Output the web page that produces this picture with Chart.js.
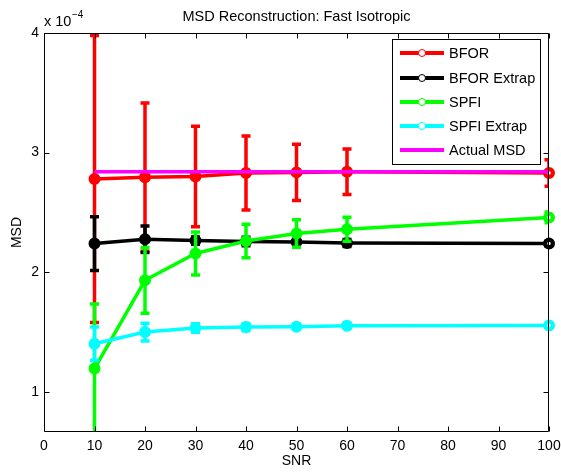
<!DOCTYPE html>
<html>
<head>
<meta charset="utf-8">
<script src="https://cdn.jsdelivr.net/npm/chart.js@4/dist/chart.umd.min.js"></script>
<style>
html,body{margin:0;padding:0;background:#fff;}
canvas{display:block;}
</style>
</head>
<body>
<canvas id="c" width="561" height="472"></canvas>
<script>
// Values in units of 1e-4
const snr = [10, 20, 30, 40, 50, 60, 100];
const bfor = [2.78, 2.795, 2.80, 2.83, 2.835, 2.84, 2.83];
const bforErr = [1.20, 0.62, 0.42, 0.31, 0.235, 0.19, 0.11];
const bforExtrap = [2.24, 2.276, 2.265, 2.257, 2.254, 2.245, 2.24];
const bforExtrapErr = [0.225, 0.11, 0.03, 0.035, 0.03, 0.03, 0.02];
const spfi = [1.195, 1.933, 2.157, 2.262, 2.324, 2.36, 2.458];
const spfiErr = [0.54, 0.275, 0.18, 0.14, 0.115, 0.10, 0.045];
const spfiExtrap = [1.403, 1.50, 1.534, 1.542, 1.545, 1.554, 1.555];
const spfiExtrapErr = [0.14, 0.075, 0.035, 0.03, 0.02, 0.02, 0.015];
const actualMSD = [2.84, 2.84, 2.84, 2.84, 2.84, 2.84, 2.84];
const xTicks = [0, 10, 20, 30, 40, 50, 60, 70, 80, 90, 100];
const yTicks = [1, 2, 3, 4];
const seriesNames = ['BFOR', 'BFOR Extrap', 'SPFI', 'SPFI Extrap', 'Actual MSD'];
const seriesColors = ['#ff0000', '#000000', '#00ff00', '#00ffff', '#ff00ff'];

const FONT = '"Liberation Sans", Arial, Helvetica, sans-serif';

function pts(vals) { return snr.map((x, i) => ({x: x, y: vals[i]})); }
function isLast(i) { return i === snr.length - 1; }

function mk(i, vals, errs, markers, ord) {
  const col = seriesColors[i];
  return {
    label: seriesNames[i],
    data: pts(vals),
    errors: errs,
    borderColor: col,
    backgroundColor: col,
    borderWidth: 3.5,
    pointRadius: markers ? snr.map((x, k) => isLast(k) ? 3.9 : 4.8) : 0,
    pointBorderWidth: snr.map((x, k) => isLast(k) ? 4.2 : 2.4),
    pointBackgroundColor: snr.map((x, k) => isLast(k) ? '#ffffff' : col),
    pointBorderColor: col,
    tension: 0,
    clip: false,
    order: ord
  };
}

const errPlugin = {
  id: 'errbars',
  beforeDatasetDraw(chart, args) {
    const ds = chart.data.datasets[args.index];
    if (!ds.errors) return;
    const ctx = chart.ctx, xs = chart.scales.x, ys = chart.scales.y, a = chart.chartArea;
    ctx.save();
    ctx.beginPath();
    ctx.rect(a.left, a.top, a.right - a.left, a.bottom - a.top);
    ctx.clip();
    ctx.strokeStyle = ds.borderColor;
    ctx.lineWidth = 3.5;
    ctx.lineCap = 'butt';
    ds.data.forEach((p, i) => {
      const e = ds.errors[i];
      const x = xs.getPixelForValue(p.x);
      const yt = ys.getPixelForValue(p.y + e);
      const yb = ys.getPixelForValue(p.y - e);
      ctx.beginPath();
      ctx.moveTo(x, yt); ctx.lineTo(x, yb);
      ctx.moveTo(x - 4.5, yt); ctx.lineTo(x + 4.5, yt);
      ctx.moveTo(x - 4.5, yb); ctx.lineTo(x + 4.5, yb);
      ctx.stroke();
    });
    ctx.restore();
  }
};

const framePlugin = {
  id: 'frame',
  afterDraw(chart) {
    const ctx = chart.ctx, a = chart.chartArea, xs = chart.scales.x, ys = chart.scales.y;
    ctx.save();
    ctx.strokeStyle = '#000';
    ctx.lineWidth = 1;
    const L = Math.round(a.left) + 0.5, R = Math.round(a.right) - 0.5;
    const T = Math.round(a.top) + 0.5, B = Math.round(a.bottom) - 0.5;
    ctx.beginPath();
    ctx.rect(L, T, R - L, B - T);
    ctx.stroke();
    ctx.beginPath();
    xTicks.forEach(v => {
      const x = Math.round(xs.getPixelForValue(v)) + 0.5;
      ctx.moveTo(x, B); ctx.lineTo(x, B - 5);
      ctx.moveTo(x, T); ctx.lineTo(x, T + 5);
    });
    yTicks.forEach(v => {
      const y = Math.round(ys.getPixelForValue(v)) + 0.5;
      ctx.moveTo(L, y); ctx.lineTo(L + 5, y);
      ctx.moveTo(R, y); ctx.lineTo(R - 5, y);
    });
    ctx.stroke();

    // title
    ctx.fillStyle = '#000';
    ctx.font = '14.5px ' + FONT;
    ctx.textAlign = 'center';
    ctx.textBaseline = 'middle';
    ctx.fillText('MSD Reconstruction: Fast Isotropic', (a.left + a.right) / 2, 17);

    // exponent label
    ctx.textAlign = 'left';
    ctx.textBaseline = 'alphabetic';
    ctx.font = '14.5px ' + FONT;
    ctx.fillText('x 10', 44, 26);
    const w = ctx.measureText('x 10').width;
    ctx.font = '10px ' + FONT;
    ctx.fillText('\u22124', 44 + w + 0.5, 18);

    // legend
    const lx = 392.5, ly = 39.5, lw = 148, lh = 125;
    ctx.fillStyle = '#fff';
    ctx.fillRect(lx, ly, lw, lh);
    ctx.strokeStyle = '#000';
    ctx.lineWidth = 1;
    ctx.strokeRect(lx, ly, lw, lh);
    const rows = [53, 78, 102, 126, 150];
    ctx.font = '14.5px ' + FONT;
    ctx.textBaseline = 'middle';
    seriesNames.forEach((n, i) => {
      const y = rows[i];
      ctx.strokeStyle = seriesColors[i];
      ctx.lineWidth = 4;
      ctx.beginPath();
      ctx.moveTo(400, y); ctx.lineTo(444, y);
      ctx.stroke();
      if (i < 4) {
        ctx.lineWidth = 1;
        ctx.fillStyle = '#fff';
        ctx.beginPath();
        ctx.arc(422, y, 3.5, 0, Math.PI * 2);
        ctx.fill();
        ctx.stroke();
      }
      ctx.fillStyle = '#000';
      ctx.fillText(n, 449, y + 1);
    });
    ctx.restore();
  }
};

new Chart(document.getElementById('c'), {
  type: 'line',
  data: {
    datasets: [
      mk(0, bfor, bforErr, true, 5),
      mk(1, bforExtrap, bforExtrapErr, true, 4),
      mk(2, spfi, spfiErr, true, 3),
      mk(3, spfiExtrap, spfiExtrapErr, true, 2),
      mk(4, actualMSD, null, false, 1)
    ]
  },
  options: {
    responsive: false,
    animation: false,
    devicePixelRatio: 1,
    layout: {padding: {left: 0, top: 33, right: 12, bottom: 0}},
    plugins: {legend: {display: false}, tooltip: {enabled: false}, title: {display: false}},
    scales: {
      x: {
        type: 'linear',
        min: 0, max: 100,
        afterBuildTicks: s => { s.ticks = xTicks.map(v => ({value: v})); },
        afterFit: s => { s.height = 40; s.paddingLeft = 0; s.paddingRight = 0; },
        grid: {display: false, drawTicks: false},
        border: {display: false},
        ticks: {color: '#000', padding: 6, font: {family: FONT, size: 14}, maxRotation: 0, autoSkip: false},
        title: {display: true, text: 'SNR', color: '#000', font: {family: FONT, size: 14}, padding: {top: 0, bottom: 2}}
      },
      y: {
        type: 'linear',
        min: 0.665, max: 4,
        afterBuildTicks: s => { s.ticks = yTicks.map(v => ({value: v})); },
        afterFit: s => { s.width = 44; s.paddingTop = 0; s.paddingBottom = 0; },
        grid: {display: false, drawTicks: false},
        border: {display: false},
        ticks: {color: '#000', padding: 5, font: {family: FONT, size: 14}},
        title: {display: true, text: 'MSD', color: '#000', font: {family: FONT, size: 14}, padding: {top: 9, bottom: 0}}
      }
    }
  },
  plugins: [errPlugin, framePlugin]
});
</script>
</body>
</html>
